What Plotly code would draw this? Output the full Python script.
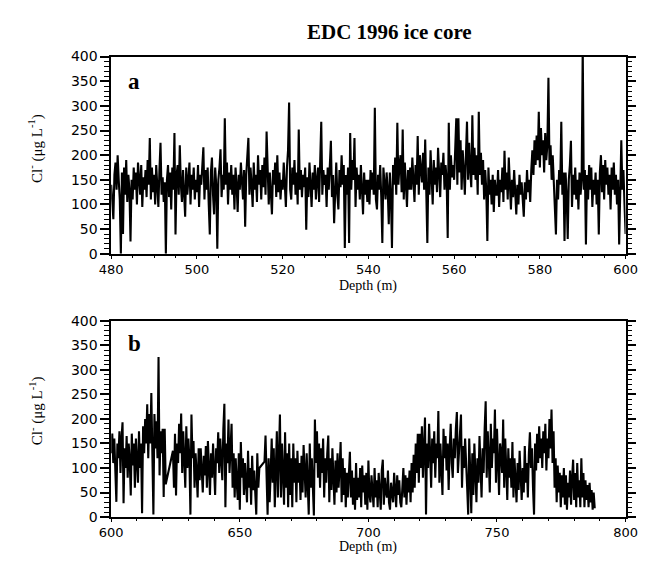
import plotly.graph_objects as go

# ---------------- Panel a: 480-600 m (0.25 m samples) ----------------
depth_a = [
    480.0, 480.25, 480.5, 480.75, 481.0, 481.25, 481.5, 481.75, 482.0, 482.25, 482.5, 482.75, 483.0, 483.25, 483.5, 483.75, 484.0, 484.25, 484.5, 484.75,
    485.0, 485.25, 485.5, 485.75, 486.0, 486.25, 486.5, 486.75, 487.0, 487.25, 487.5, 487.75, 488.0, 488.25, 488.5, 488.75, 489.0, 489.25, 489.5, 489.75,
    490.0, 490.25, 490.5, 490.75, 491.0, 491.25, 491.5, 491.75, 492.0, 492.25, 492.5, 492.75, 493.0, 493.25, 493.5, 493.75, 494.0, 494.25, 494.5, 494.75,
    495.0, 495.25, 495.5, 495.75, 496.0, 496.25, 496.5, 496.75, 497.0, 497.25, 497.5, 497.75, 498.0, 498.25, 498.5, 498.75, 499.0, 499.25, 499.5, 499.75,
    500.0, 500.25, 500.5, 500.75, 501.0, 501.25, 501.5, 501.75, 502.0, 502.25, 502.5, 502.75, 503.0, 503.25, 503.5, 503.75, 504.0, 504.25, 504.5, 504.75,
    505.0, 505.25, 505.5, 505.75, 506.0, 506.25, 506.5, 506.75, 507.0, 507.25, 507.5, 507.75, 508.0, 508.25, 508.5, 508.75, 509.0, 509.25, 509.5, 509.75,
    510.0, 510.25, 510.5, 510.75, 511.0, 511.25, 511.5, 511.75, 512.0, 512.25, 512.5, 512.75, 513.0, 513.25, 513.5, 513.75, 514.0, 514.25, 514.5, 514.75,
    515.0, 515.25, 515.5, 515.75, 516.0, 516.25, 516.5, 516.75, 517.0, 517.25, 517.5, 517.75, 518.0, 518.25, 518.5, 518.75, 519.0, 519.25, 519.5, 519.75,
    520.0, 520.25, 520.5, 520.75, 521.0, 521.25, 521.5, 521.75, 522.0, 522.25, 522.5, 522.75, 523.0, 523.25, 523.5, 523.75, 524.0, 524.25, 524.5, 524.75,
    525.0, 525.25, 525.5, 525.75, 526.0, 526.25, 526.5, 526.75, 527.0, 527.25, 527.5, 527.75, 528.0, 528.25, 528.5, 528.75, 529.0, 529.25, 529.5, 529.75,
    530.0, 530.25, 530.5, 530.75, 531.0, 531.25, 531.5, 531.75, 532.0, 532.25, 532.5, 532.75, 533.0, 533.25, 533.5, 533.75, 534.0, 534.25, 534.5, 534.75,
    535.0, 535.25, 535.5, 535.75, 536.0, 536.25, 536.5, 536.75, 537.0, 537.25, 537.5, 537.75, 538.0, 538.25, 538.5, 538.75, 539.0, 539.25, 539.5, 539.75,
    540.0, 540.25, 540.5, 540.75, 541.0, 541.25, 541.5, 541.75, 542.0, 542.25, 542.5, 542.75, 543.0, 543.25, 543.5, 543.75, 544.0, 544.25, 544.5, 544.75,
    545.0, 545.25, 545.5, 545.75, 546.0, 546.25, 546.5, 546.75, 547.0, 547.25, 547.5, 547.75, 548.0, 548.25, 548.5, 548.75, 549.0, 549.25, 549.5, 549.75,
    550.0, 550.25, 550.5, 550.75, 551.0, 551.25, 551.5, 551.75, 552.0, 552.25, 552.5, 552.75, 553.0, 553.25, 553.5, 553.75, 554.0, 554.25, 554.5, 554.75,
    555.0, 555.25, 555.5, 555.75, 556.0, 556.25, 556.5, 556.75, 557.0, 557.25, 557.5, 557.75, 558.0, 558.25, 558.5, 558.75, 559.0, 559.25, 559.5, 559.75,
    560.0, 560.25, 560.5, 560.75, 561.0, 561.25, 561.5, 561.75, 562.0, 562.25, 562.5, 562.75, 563.0, 563.25, 563.5, 563.75, 564.0, 564.25, 564.5, 564.75,
    565.0, 565.25, 565.5, 565.75, 566.0, 566.25, 566.5, 566.75, 567.0, 567.25, 567.5, 567.75, 568.0, 568.25, 568.5, 568.75, 569.0, 569.25, 569.5, 569.75,
    570.0, 570.25, 570.5, 570.75, 571.0, 571.25, 571.5, 571.75, 572.0, 572.25, 572.5, 572.75, 573.0, 573.25, 573.5, 573.75, 574.0, 574.25, 574.5, 574.75,
    575.0, 575.25, 575.5, 575.75, 576.0, 576.25, 576.5, 576.75, 577.0, 577.25, 577.5, 577.75, 578.0, 578.25, 578.5, 578.75, 579.0, 579.25, 579.5, 579.75,
    580.0, 580.25, 580.5, 580.75, 581.0, 581.25, 581.5, 581.75, 582.0, 582.25, 582.5, 582.75, 583.0, 583.25, 583.5, 583.75, 584.0, 584.25, 584.5, 584.75,
    585.0, 585.25, 585.5, 585.75, 586.0, 586.25, 586.5, 586.75, 587.0, 587.25, 587.5, 587.75, 588.0, 588.25, 588.5, 588.75, 589.0, 589.25, 589.5, 589.75,
    590.0, 590.25, 590.5, 590.75, 591.0, 591.25, 591.5, 591.75, 592.0, 592.25, 592.5, 592.75, 593.0, 593.25, 593.5, 593.75, 594.0, 594.25, 594.5, 594.75,
    595.0, 595.25, 595.5, 595.75, 596.0, 596.25, 596.5, 596.75, 597.0, 597.25, 597.5, 597.75, 598.0, 598.25, 598.5, 598.75, 599.0, 599.25, 599.5, 599.75,
    600.0,
]
cl_a = [
    140, 100, 70, 160, 185, 130, 200, 150, 110, 0, 165, 40, 175, 120, 190, 105, 160, 130, 25, 150,
    110, 175, 130, 165, 100, 185, 140, 120, 180, 95, 155, 130, 170, 115, 190, 140, 235, 110, 175, 125,
    160, 100, 180, 135, 95, 170, 225, 120, 155, 105, 145, 0, 150, 180, 115, 165, 90, 175, 130, 245,
    39, 160, 180, 120, 220, 140, 105, 170, 130, 75, 175, 120, 150, 185, 100, 160, 130, 175, 110, 150,
    125, 180, 95, 160, 140, 190, 216, 110, 170, 130, 175, 100, 39, 165, 195, 120, 80, 175, 140, 10,
    150, 175, 212, 115, 160, 130, 275, 140, 185, 100, 165, 130, 180, 120, 160, 90, 175, 140, 85, 160,
    130, 185, 145, 110, 170, 55, 160, 190, 235, 120, 175, 140, 95, 185, 130, 160, 105, 200, 140, 170,
    110, 180, 135, 195, 120, 248, 150, 100, 165, 130, 80, 170, 140, 185, 115, 200, 125, 165, 110, 150,
    130, 185, 140, 95, 175, 210, 307, 130, 110, 175, 140, 190, 120, 165, 100, 252, 130, 170, 115, 160,
    135, 175, 49, 155, 115, 185, 140, 95, 165, 130, 180, 110, 150, 175, 105, 190, 268, 120, 170, 140,
    160, 95, 175, 130, 190, 229, 115, 160, 62, 150, 185, 120, 90, 170, 135, 200, 140, 180, 12, 160,
    120, 175, 22, 245, 130, 190, 150, 235, 95, 175, 130, 160, 110, 180, 135, 80, 165, 120, 150, 105,
    150, 100, 170, 130, 165, 120, 296, 110, 90, 160, 130, 180, 115, 22, 175, 140, 110, 165, 130, 60,
    165, 120, 12, 180, 140, 195, 120, 266, 140, 180, 200, 125, 252, 110, 185, 140, 95, 170, 130, 175,
    130, 195, 150, 105, 180, 140, 239, 120, 200, 160, 145, 205, 130, 232, 150, 22, 175, 120, 210, 150,
    100, 190, 140, 175, 125, 215, 150, 115, 185, 160, 205, 130, 180, 150, 32, 266, 130, 200, 155, 180,
    150, 210, 275, 140, 275, 165, 230, 130, 210, 170, 120, 200, 268, 150, 225, 170, 135, 281, 160, 215,
    150, 200, 120, 288, 160, 205, 140, 190, 110, 170, 130, 26, 175, 120, 150, 100, 160, 85, 150, 120,
    120, 170, 95, 150, 125, 175, 105, 209, 130, 165, 110, 195, 140, 90, 150, 115, 170, 125, 80, 140,
    100, 160, 120, 145, 95, 75, 145, 110, 170, 125, 150, 105, 170, 210, 160, 230, 180, 240, 190, 288,
    175, 255, 200, 230, 165, 245, 190, 220, 357, 180, 220, 150, 200, 130, 95, 39, 150, 110, 170, 140,
    268, 120, 165, 26, 165, 120, 30, 150, 180, 229, 95, 160, 120, 175, 110, 150, 90, 165, 120, 150,
    420, 130, 170, 19, 160, 110, 180, 130, 175, 95, 150, 120, 165, 100, 150, 39, 165, 200, 125, 180,
    110, 190, 140, 175, 120, 160, 90, 175, 130, 185, 120, 160, 100, 150, 19, 175, 230, 130, 170, 100,
    40,
]

# ---------------- Panel b: 600-788 m (0.4 m samples, two core gaps) ----------------
depth_b = [
    600.0, 600.4, 600.8, 601.2, 601.6, 602.0, 602.4, 602.8, 603.2, 603.6, 604.0, 604.4, 604.8, 605.2, 605.6, 606.0, 606.4, 606.8, 607.2, 607.6,
    608.0, 608.4, 608.8, 609.2, 609.6, 610.0, 610.4, 610.8, 611.2, 611.6, 612.0, 612.4, 612.8, 613.2, 613.6, 614.0, 614.4, 614.8, 615.2, 615.6,
    616.0, 616.4, 616.8, 617.2, 617.6, 618.0, 618.4, 618.8, 619.2, 619.6, 620.0, 620.4, 620.8, 621.2,
    624.0, 624.4, 624.8, 625.2, 625.6, 626.0, 626.4, 626.8, 627.2, 627.6, 628.0, 628.4, 628.8, 629.2, 629.6, 630.0, 630.4, 630.8, 631.2, 631.6,
    632.0, 632.4, 632.8, 633.2, 633.6, 634.0, 634.4, 634.8, 635.2, 635.6, 636.0, 636.4, 636.8, 637.2, 637.6, 638.0, 638.4, 638.8, 639.2, 639.6,
    640.0, 640.4, 640.8, 641.2, 641.6, 642.0, 642.4, 642.8, 643.2, 643.6, 644.0, 644.4, 644.8, 645.2, 645.6, 646.0, 646.4, 646.8, 647.2, 647.6,
    648.0, 648.4, 648.8, 649.2, 649.6, 650.0, 650.4, 650.8, 651.2, 651.6, 652.0, 652.4, 652.8, 653.2, 653.6, 654.0, 654.4, 654.8, 655.2, 655.6,
    656.0, 656.4, 656.8, 657.2, 657.6, 659.6, 660.0, 660.4, 660.8, 661.2, 661.6, 662.0, 662.4, 662.8, 663.2, 663.6,
    664.0, 664.4, 664.8, 665.2, 665.6, 666.0, 666.4, 666.8, 667.2, 667.6, 668.0, 668.4, 668.8, 669.2, 669.6, 670.0, 670.4, 670.8, 671.2, 671.6,
    672.0, 672.4, 672.8, 673.2, 673.6, 674.0, 674.4, 674.8, 675.2, 675.6, 676.0, 676.4, 676.8, 677.2, 677.6, 678.0, 678.4, 678.8, 679.2, 679.6,
    680.0, 680.4, 680.8, 681.2, 681.6, 682.0, 682.4, 682.8, 683.2, 683.6, 684.0, 684.4, 684.8, 685.2, 685.6, 686.0, 686.4, 686.8, 687.2, 687.6,
    688.0, 688.4, 688.8, 689.2, 689.6, 690.0, 690.4, 690.8, 691.2, 691.6, 692.0, 692.4, 692.8, 693.2, 693.6, 694.0, 694.4, 694.8, 695.2, 695.6,
    696.0, 696.4, 696.8, 697.2, 697.6, 698.0, 698.4, 698.8, 699.2, 699.6, 700.0, 700.4, 700.8, 701.2, 701.6, 702.0, 702.4, 702.8, 703.2, 703.6,
    704.0, 704.4, 704.8, 705.2, 705.6, 706.0, 706.4, 706.8, 707.2, 707.6, 708.0, 708.4, 708.8, 709.2, 709.6, 710.0, 710.4, 710.8, 711.2, 711.6,
    712.0, 712.4, 712.8, 713.2, 713.6, 714.0, 714.4, 714.8, 715.2, 715.6, 716.0, 716.4, 716.8, 717.2, 717.6, 718.0, 718.4, 718.8, 719.2, 719.6,
    720.0, 720.4, 720.8, 721.2, 721.6, 722.0, 722.4, 722.8, 723.2, 723.6, 724.0, 724.4, 724.8, 725.2, 725.6, 726.0, 726.4, 726.8, 727.2, 727.6,
    728.0, 728.4, 728.8, 729.2, 729.6, 730.0, 730.4, 730.8, 731.2, 731.6, 732.0, 732.4, 732.8, 733.2, 733.6, 734.0, 734.4, 734.8, 735.2, 735.6,
    736.0, 736.4, 736.8, 737.2, 737.6, 738.0, 738.4, 738.8, 739.2, 739.6, 740.0, 740.4, 740.8, 741.2, 741.6, 742.0, 742.4, 742.8, 743.2, 743.6,
    744.0, 744.4, 744.8, 745.2, 745.6, 746.0, 746.4, 746.8, 747.2, 747.6, 748.0, 748.4, 748.8, 749.2, 749.6, 750.0, 750.4, 750.8, 751.2, 751.6,
    752.0, 752.4, 752.8, 753.2, 753.6, 754.0, 754.4, 754.8, 755.2, 755.6, 756.0, 756.4, 756.8, 757.2, 757.6, 758.0, 758.4, 758.8, 759.2, 759.6,
    760.0, 760.4, 760.8, 761.2, 761.6, 762.0, 762.4, 762.8, 763.2, 763.6, 764.0, 764.4, 764.8, 765.2, 765.6, 766.0, 766.4, 766.8, 767.2, 767.6,
    768.0, 768.4, 768.8, 769.2, 769.6, 770.0, 770.4, 770.8, 771.2, 771.6, 772.0, 772.4, 772.8, 773.2, 773.6, 774.0, 774.4, 774.8, 775.2, 775.6,
    776.0, 776.4, 776.8, 777.2, 777.6, 778.0, 778.4, 778.8, 779.2, 779.6, 780.0, 780.4, 780.8, 781.2, 781.6, 782.0, 782.4, 782.8, 783.2, 783.6,
    784.0, 784.4, 784.8, 785.2, 785.6, 786.0, 786.4, 786.8, 787.2, 787.6, 788.0,
]
cl_b = [
    130, 170, 110, 160, 95, 31, 150, 120, 175, 90, 160, 193, 28, 140, 100, 165, 80, 150, 115, 44,
    170, 105, 150, 60, 160, 120, 70, 175, 100, 150, 8, 185, 130, 200, 150, 230, 120, 210, 150, 253,
    130, 5, 210, 140, 195, 120, 326, 85, 175, 130, 180, 41, 180, 67,
    135, 60, 170, 44, 150, 110, 190, 130, 211, 90, 175, 120, 60, 185, 100, 160, 120, 5, 209, 120,
    155, 60, 130, 90, 40, 140, 75, 140, 95, 50, 125, 85, 145, 60, 155, 100, 45, 130, 80, 150,
    100, 45, 140, 110, 173, 90, 160, 120, 75, 180, 231, 20, 150, 110, 199, 90, 165, 190, 60, 130,
    40, 120, 70, 35, 130, 15, 153, 80, 120, 45, 110, 70, 30, 135, 60, 100, 25, 125, 55, 95,
    30, 5, 130, 60, 100, 113, 166, 40, 5, 120, 30, 90, 160, 70, 140, 20,
    110, 175, 40, 150, 209, 40, 150, 90, 25, 173, 60, 130, 20, 150, 45, 120, 20, 150, 70, 120,
    30, 135, 70, 110, 35, 125, 50, 147, 90, 40, 130, 70, 5, 150, 60, 120, 40, 3, 199, 110,
    175, 80, 150, 60, 140, 90, 160, 40, 120, 70, 130, 166, 30, 120, 55, 140, 80, 25, 115, 50,
    130, 60, 100, 153, 30, 120, 45, 100, 20, 90, 40, 110, 133, 40, 95, 25, 80, 15, 110, 35,
    80, 40, 100, 20, 105, 50, 85, 25, 90, 15, 115, 45, 30, 85, 50, 20, 100, 40, 75, 20,
    90, 40, 15, 95, 117, 25, 80, 50, 40, 95, 30, 15, 70, 50, 30, 90, 40, 20, 85, 45,
    75, 30, 20, 80, 100, 40, 85, 25, 80, 50, 95, 30, 110, 50, 127, 60, 150, 90, 170, 70,
    170, 100, 185, 80, 160, 203, 5, 150, 100, 190, 130, 60, 160, 110, 175, 80, 150, 120, 216, 70,
    150, 100, 45, 180, 120, 165, 95, 150, 55, 140, 190, 110, 80, 160, 120, 180, 214, 90, 150, 170,
    209, 60, 145, 100, 160, 120, 60, 5, 160, 90, 8, 130, 45, 150, 90, 30, 120, 70, 165, 100,
    40, 140, 90, 180, 236, 80, 175, 120, 50, 190, 100, 160, 130, 219, 70, 180, 110, 45, 150, 130,
    90, 199, 60, 160, 100, 35, 140, 80, 120, 60, 153, 40, 120, 70, 30, 110, 55, 135, 75, 35,
    100, 50, 145, 70, 110, 40, 130, 173, 100, 140, 60, 5, 150, 95, 170, 110, 185, 120, 160, 100,
    175, 130, 190, 95, 160, 120, 200, 140, 219, 110, 175, 60, 120, 30, 105, 50, 90, 20, 85, 40,
    100, 25, 85, 15, 70, 40, 95, 25, 80, 117, 35, 90, 20, 110, 40, 75, 20, 120, 40, 90,
    20, 75, 35, 65, 20, 70, 30, 55, 15, 50, 18,
]

y_ticks = [0, 50, 100, 150, 200, 250, 300, 350, 400]

W, H = 653, 561
# plot areas in pixels
L, R = 103, 637
A_TOP, A_BOT = 50, 253
B_TOP, B_BOT = 322, 524

fig = go.Figure()
fig.add_trace(go.Scatter(x=depth_a, y=cl_a, mode="lines",
                         line=dict(color="black", width=2.1), xaxis="x", yaxis="y", showlegend=False))
fig.add_trace(go.Scatter(x=depth_b, y=cl_b, mode="lines",
                         line=dict(color="black", width=2.1), xaxis="x2", yaxis="y2", showlegend=False))

y_tick_font = dict(family="DejaVu Sans", size=14, color="black")
x_tick_font = dict(family="DejaVu Sans", size=13, color="black")

def xax(rng, dtick, minor_dtick, anchor):
    return dict(range=rng, domain=[L / W, R / W], anchor=anchor,
                showline=True, linecolor="black", linewidth=1.5, mirror=True,
                ticks="outside", ticklen=3, tickwidth=1.2, tickcolor="black",
                dtick=dtick, tick0=rng[0], tickfont=x_tick_font, showgrid=False, zeroline=False,
                minor=dict(dtick=minor_dtick, ticks="outside", ticklen=2, tickcolor="black", tickwidth=1, showgrid=False))

def yax(top, bot, anchor):
    return dict(range=[0, 400], domain=[1 - bot / H, 1 - top / H], anchor=anchor,
                showline=True, linecolor="black", linewidth=1.5, mirror="ticks",
                ticks="outside", ticklen=9, tickwidth=1.5, tickcolor="black",
                tickvals=y_ticks, tickfont=y_tick_font, showgrid=False, zeroline=False,
                minor=dict(dtick=10, ticks="outside", ticklen=5, tickcolor="black", tickwidth=1, showgrid=False))

fig.update_layout(
    width=W, height=H, margin=dict(l=0, r=0, t=0, b=0),
    paper_bgcolor="white", plot_bgcolor="white",
    xaxis=xax([480, 600], 20, 5, "y"),
    yaxis=yax(A_TOP, A_BOT, "x"),
    xaxis2=xax([600, 800], 50, 10, "y2"),
    yaxis2=yax(B_TOP, B_BOT, "x2"),
)

serif = "Liberation Serif"
ann = [
    dict(text="<b>EDC 1996 ice core</b>", x=392 / W, y=1 - 25 / H, font=dict(family=serif, size=21)),
    dict(text="<b>a</b>", x=127 / W, y=1 - 76 / H, font=dict(family=serif, size=23)),
    dict(text="<b>b</b>", x=127 / W, y=1 - 345 / H, font=dict(family=serif, size=23)),
    dict(text="Depth (m)", x=370 / W, y=1 - 286 / H, font=dict(family=serif, size=14)),
    dict(text="Depth (m)", x=370 / W, y=1 - 555 / H, font=dict(family=serif, size=14)),
    dict(text="Cl<sup>-</sup> (μg L<sup>-1</sup>)", x=25 / W, y=1 - 145 / H, textangle=-90,
         font=dict(family=serif, size=15)),
    dict(text="Cl<sup>-</sup> (μg L<sup>-1</sup>)", x=25 / W, y=1 - 415 / H, textangle=-90,
         font=dict(family=serif, size=15)),
]
for a in ann:
    a.update(xref="paper", yref="paper", showarrow=False, xanchor="center", yanchor="middle")
    a["font"]["color"] = "black"
fig.update_layout(annotations=ann)

fig.write_html("out.html", config={"displayModeBar": False},
               post_script="document.body.style.margin='0px';")
